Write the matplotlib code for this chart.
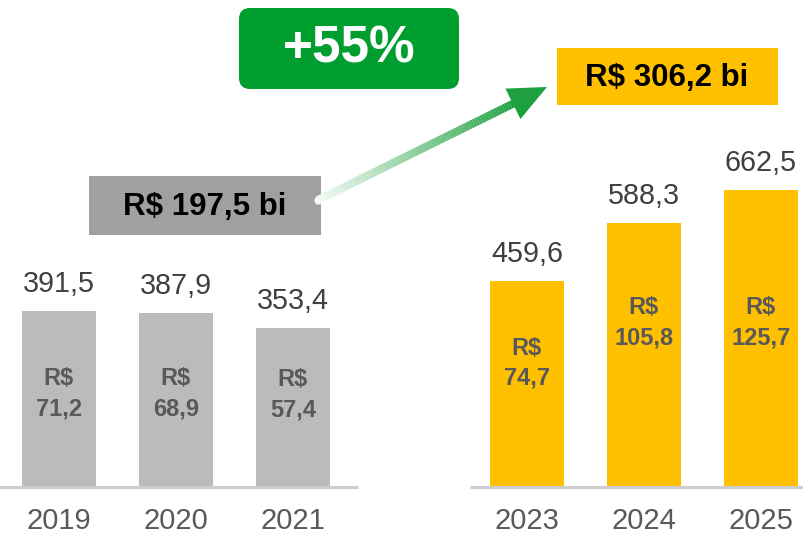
#!/usr/bin/env python3
"""Two bar groups (2019-2021 vs 2023-2025) with growth call-out boxes."""
import matplotlib
matplotlib.use("Agg")
import matplotlib.pyplot as plt
import numpy as np
from matplotlib.collections import LineCollection
from matplotlib.colors import to_rgb
from matplotlib.patches import FancyBboxPatch, Polygon, Rectangle

plt.rcParams["font.family"] = ["Liberation Sans", "DejaVu Sans"]

years = ["2019", "2020", "2021", "2023", "2024", "2025"]
totals = [391.5, 387.9, 353.4, 459.6, 588.3, 662.5]
inner = [71.2, 68.9, 57.4, 74.7, 105.8, 125.7]
sum_before = "R$ 197,5 bi"
sum_after = "R$ 306,2 bi"
growth = "+55%"

GRAY = "#BBBBBB"
YELLOW = "#FFC000"
GREEN = "#009E2F"


def br(v):
    return f"{v:.1f}".replace(".", ",")


def main():
    W, H = 804, 534
    fig = plt.figure(figsize=(W / 100, H / 100), dpi=100)
    ax = fig.add_axes([0, 0, 1, 1])
    ax.set_axis_off()

    x = np.array([0, 1, 2, 4, 5, 6])
    colors = [GRAY] * 3 + [YELLOW] * 3
    ax.bar(x, totals, width=0.632, color=colors, zorder=2)
    ax.set_xlim(-0.504, 6.368)
    ax.set_ylim(-107.4, 1087.2)

    # baselines under each group
    ax.hlines(-1.5, -0.6, 2.556, color="#CCCCCC", lw=2.2, zorder=3)
    ax.hlines(-1.5, 3.513, 6.5, color="#CCCCCC", lw=2.2, zorder=3)

    # label y positions inside bars (data units)
    inner_y = [206, 206, 204, 275, 365, 365]
    for xi, t, v, iy, yr in zip(x, totals, inner, inner_y, years):
        ax.text(xi, t + 60, br(t), ha="center", va="center",
                fontsize=20.7, color="#404040")
        ax.text(xi, -79, yr, ha="center", va="center",
                fontsize=21, color="#595959")
        ax.annotate("R$", (xi, iy), xytext=(0, 15), textcoords="offset pixels",
                    ha="center", va="center", fontsize=17,
                    fontweight="bold", color="#595959")
        ax.annotate(br(v), (xi, iy), xytext=(0, -15), textcoords="offset pixels",
                    ha="center", va="center", fontsize=17,
                    fontweight="bold", color="#595959")

    # overlay in pixel coordinates for the call-outs
    ov = fig.add_axes([0, 0, 1, 1], facecolor="none")
    ov.set_xlim(0, W)
    ov.set_ylim(H, 0)
    ov.set_axis_off()

    ov.add_patch(Rectangle((89, 176), 232, 59, color="#A0A0A0", lw=0))
    ov.text(205, 207, sum_before, ha="center", va="center", fontsize=22.5,
            fontweight="bold", color="black")

    ov.add_patch(Rectangle((557, 48), 221, 57, color=YELLOW, lw=0))
    ov.text(667, 78, sum_after, ha="center", va="center", fontsize=22.5,
            fontweight="bold", color="black")

    ov.add_patch(FancyBboxPatch((239, 8), 220, 81,
                                boxstyle="round,pad=0,rounding_size=11",
                                color=GREEN, lw=0))
    ov.text(349, 49, growth, ha="center", va="center", fontsize=37,
            fontweight="bold", color="white")

    # gradient arrow
    start = np.array([318.0, 200.0])
    tip = np.array([547.0, 87.0])
    u = (tip - start) / np.linalg.norm(tip - start)
    nrm = np.array([-u[1], u[0]])
    base = tip - 38 * u
    n = 80
    pts = np.linspace(start, base + 3 * u, n + 1)
    segs = np.stack([pts[:-1], pts[1:]], axis=1)
    c0 = np.array(to_rgb("#F2FAF3"))
    c1 = np.array(to_rgb("#1FA03F"))
    cols = [c0 + (c1 - c0) * (i / (n - 1)) for i in range(n)]
    ov.add_collection(LineCollection(segs, colors=cols, linewidths=5.8,
                                     capstyle="butt"))
    ov.plot(*start, "o", ms=6, color="#F2FAF3", mec="none")
    ov.add_patch(Polygon([tip, base + 17 * nrm, base - 17 * nrm],
                         closed=True, color=c1, lw=0))

    fig.savefig("out.png", dpi=100)


if __name__ == "__main__":
    main()
